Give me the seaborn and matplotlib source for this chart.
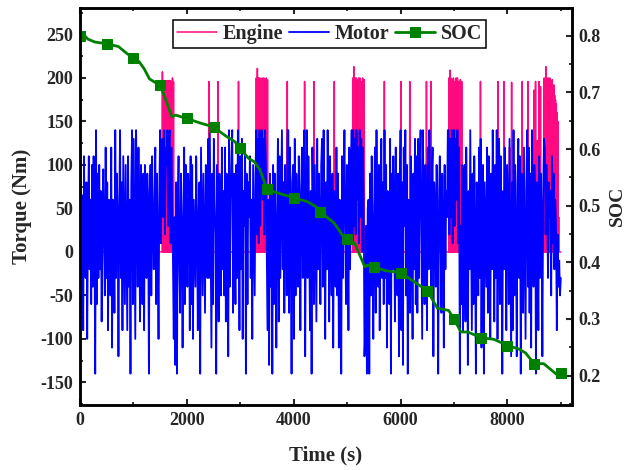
import numpy as np
import matplotlib
matplotlib.use("Agg")
import matplotlib.pyplot as plt
import seaborn as sns
from matplotlib.ticker import MultipleLocator

# ---------------- data ----------------
# Motor torque (Nm), sampled every 15 s from 0 to 9000 s (one row = 300 s)
motor_step = 15
motor_torque = [
    0, 90, -70, 65, -90, 110, 10, -30, 80, -100, 40, 110, -20, 60, -60, 100, -40, 110, 20, -140,
    140, -60, 90, -30, 100, -20, 70, -80, 30, 95, 10, -50, 120, -30, 80, -90, 60, 20, -50, 120,
    -110, 60, 20, -70, 140, -30, 90, 40, -120, 50, 140, -30, 80, -90, 110, 30, -60, 100, 10, -90,
    110, -40, 60, -140, 80, 140, -60, 130, 20, -100, 140, 60, -40, 120, 10, -80, 100, 40, -60, 90,
    -90, 100, 20, -30, 90, 50, -140, 70, 100, -50, 110, 30, -20, 60, 120, -60, 90, 10, -100, 70,
    140, 10, 120, 130, 40, 140, 20, 120, 100, 140, 30, 130, 140, 10, 120, 60, -10, -100, 40, -130,
    80, -140, 50, 110, -20, -70, 90, 30, -110, 30, 120, -60, 100, 20, -40, 90, 60, -90, 110, -60,
    100, -100, 60, 10, -40, 110, 40, -90, 40, 80, -140, 120, 30, -50, 90, 10, -70, 100, 60, -30,
    130, -30, 140, 20, -110, 90, -60, 130, 60, 20, -140, 100, 40, -80, 90, 10, -50, 120, -20, 70,
    -50, 120, -80, 90, 30, -120, 140, -40, 60, 110, 140, -70, 90, 20, -60, 100, -30, 140, 50, -90,
    110, -20, 130, -100, 70, 30, 120, -140, 90, -60, 80, 40, 110, -30, 60, -100, 100, 20, -50, 90,
    140, 20, 130, 10, 140, 30, 120, 140, 60, 130, 20, 140, 100, 10, -90, 60, -130, 90, -40, 70,
    -140, 100, -60, 90, 20, -110, 50, 130, -80, 110, -30, 60, 140, -20, 80, -70, 100, 30, -50, 140,
    140, -70, 120, 40, -140, 80, 100, -100, 130, -50, 90, 20, -40, 110, 50, -90, 70, 120, -30, 90,
    140, -120, 60, 140, -30, 110, 20, -90, 70, -140, 120, 40, -60, 100, 10, -80, 130, -20, 90, 30,
    -60, 100, 130, -40, 140, 30, -100, 80, -20, 140, 60, -80, 110, 20, -50, 90, -110, 70, 30, -40,
    120, -50, 90, -110, 60, 10, -140, 110, -30, 70, 140, 20, -60, 100, 40, -90, 120, -20, 80, 140,
    10, 140, 30, 130, 20, 140, 60, 120, 10, 140, 40, 130, 0, 120, 60, -120, -90, 30, -140, 50,
    60, -140, 90, -50, 110, 20, -100, 40, 120, -70, 140, 10, -40, 100, -90, 60, 130, -30, 80, -60,
    140, -30, 100, -110, 70, 20, -60, 130, -140, 90, -20, 110, 50, -80, 120, 10, -50, 90, -120, 70,
    140, -90, 80, -130, 120, 30, 140, -50, 100, -140, 60, 20, -70, 110, 40, -100, 90, -20, 130, -60,
    110, -70, 130, -30, 90, 140, 20, -100, 140, 20, -60, 100, 40, -90, 120, -20, 140, 60, -40, 80,
    120, -120, 80, 50, -40, 100, 20, -140, 60, 110, 10, -70, 90, 30, -110, 100, -20, 70, 40, 140,
    140, 20, 130, 40, 140, 10, 120, 140, 30, 130, 60, 140, 10, 120, -140, 30, -60, 100, -90, 80,
    100, -80, 120, 20, -130, 70, -20, 140, 30, -90, 90, -60, 110, 10, -140, 80, 40, -50, 120, -30,
    130, -110, 60, 100, -140, 80, 20, -40, 120, -70, 110, 30, -100, 90, -20, 140, 50, -80, 100, -30,
    140, -100, 90, 130, -60, 110, 20, -140, 70, -20, 120, 40, -90, 100, 60, -60, 130, 10, -120, 80,
    -90, 140, -50, 100, 20, -120, 80, 130, -30, 110, -140, 90, 40, -70, 120, 10, -100, 70, 140, -40,
    120, -70, 90, -110, 140, 30, -40, 100, 60, -140, 80, 20, -90, 110, -30, 90, 40, -120, 70, 130,
    120, 20, 100, 60, -30, 80, 40, 70, -50, 110, 10, 90, -20, 60, 30, -90, 20, -40, -10, -50,
    -30,
]

# Engine torque: zero except for these on-events (time s, torque Nm)
engine_on_time = [
    1543, 1560, 1580, 1600, 1624, 1640, 1656, 1672, 1687, 1705, 1731, 1750,
    2411, 2580, 2967,
    3300, 3320, 3340, 3365, 3390, 3410, 3440, 3460, 3485, 3510,
    3880, 4204, 4380, 4760,
    5105, 5125, 5145, 5170, 5195, 5215, 5240, 5265, 5290, 5320,
    5697, 6010, 6172, 6485, 6572, 6746,
    6905, 6925, 6945, 6970, 6990, 7015, 7040, 7065, 7090, 7120, 7145,
    7496, 7822, 7934, 8040, 8079, 8278, 8383,
    8495, 8527, 8560, 8590, 8620,
    8690, 8705, 8720, 8735, 8750, 8765, 8780, 8795, 8810, 8825, 8840,
    8855, 8870, 8885, 8900, 8915, 8930, 8945, 8960,
]
engine_on_torque = [
    207, 197, 195, 196, 197, 190, 197, 195, 197, 196, 200, 196,
    196, 196, 196,
    200, 211, 200, 200, 198, 200, 200, 196, 200, 198,
    196, 196, 196, 196,
    200, 213, 200, 200, 198, 200, 200, 196, 200, 198,
    196, 196, 196, 196, 196, 75,
    200, 209, 200, 198, 200, 196, 200, 200, 196, 198, 196,
    196, 196, 196, 120, 195, 196, 196,
    186, 196, 128, 196, 190,
    200, 196, 213, 200, 196, 200, 192, 200, 196, 190, 198,
    185, 192, 180, 175, 170, 160, 150, 40,
]
engine_end_time = 9000

# State of charge
soc_time = [0, 100, 150, 280, 500, 720, 875, 1000, 1100, 1200, 1300, 1400,
            1500, 1620, 1720, 1790, 2000, 2250, 2500, 2730, 2900, 3000,
            3150, 3270, 3370, 3500, 3680, 4000, 4260, 4420, 4500, 4760,
            4910, 5000, 5140, 5250, 5330, 5390, 5500, 5720, 6000, 6250,
            6500, 6690, 6900, 7000, 7130, 7260, 7500, 7750, 8000, 8215,
            8340, 8500, 8680, 8935, 9000]
soc_value = [0.800, 0.799, 0.794, 0.789, 0.786, 0.781, 0.769, 0.761, 0.755,
             0.742, 0.724, 0.718, 0.714, 0.683, 0.657, 0.660, 0.654, 0.646,
             0.639, 0.623, 0.613, 0.601, 0.584, 0.577, 0.563, 0.529, 0.523,
             0.514, 0.507, 0.498, 0.489, 0.469, 0.448, 0.441, 0.434, 0.410,
             0.392, 0.395, 0.392, 0.385, 0.382, 0.366, 0.350, 0.319, 0.315,
             0.300, 0.277, 0.277, 0.267, 0.264, 0.253, 0.247, 0.240, 0.221,
             0.221, 0.201, 0.204]
soc_marker_interval = 500

# ---------------- style ----------------
sns.set_style("ticks")
plt.rcParams.update({
    "font.family": ["Liberation Serif", "DejaVu Serif"],
    "font.weight": "bold",
    "axes.labelweight": "bold",
    "axes.unicode_minus": False,
    "axes.linewidth": 1.8,
})

motor_time = [i * motor_step for i in range(len(motor_torque))]

eng_t = [0.0]
eng_v = [0.0]
for t, v in zip(engine_on_time, engine_on_torque):
    eng_t += [t - 4, t, t + 4]
    eng_v += [0.0, v, 0.0]
eng_t.append(engine_end_time)
eng_v.append(0.0)

marker_idx = [i for i, t in enumerate(soc_time) if t % soc_marker_interval == 0]

fig = plt.figure(figsize=(6.27, 4.70), dpi=100)
L, R, T, B = 80, 571.5, 7.5, 405
ax = fig.add_axes([L / 627, 1 - B / 470, (R - L) / 627, (B - T) / 470])
ax2 = ax.twinx()

sns.lineplot(x=eng_t, y=eng_v, ax=ax, color="#FF0A80", linewidth=1.1,
             label="Engine", estimator=None, sort=False, zorder=2)
sns.lineplot(x=motor_time, y=motor_torque, ax=ax, color="#0000FF",
             linewidth=1.3, label="Motor", estimator=None, sort=False, zorder=3)
sns.lineplot(x=soc_time, y=soc_value, ax=ax2, color="#008000", linewidth=2.0,
             marker="s", markersize=6.5, markevery=marker_idx,
             markeredgecolor="#008000", markerfacecolor="#008000",
             label="SOC", estimator=None, sort=False)

ax.set_xlim(0, 9200)
ax.set_ylim(-176, 281)
ax2.set_ylim(0.148, 0.85)

ax.xaxis.set_major_locator(MultipleLocator(2000))
ax.xaxis.set_minor_locator(MultipleLocator(1000))
ax.yaxis.set_major_locator(MultipleLocator(50))
ax.yaxis.set_minor_locator(MultipleLocator(25))
ax2.yaxis.set_major_locator(MultipleLocator(0.1))
ax2.yaxis.set_minor_locator(MultipleLocator(0.05))

ax.tick_params(axis="both", which="major", direction="in", length=4.5,
               width=1.5, labelsize=13, pad=5)
ax.tick_params(axis="both", which="minor", direction="in", length=2.5, width=1.3)
ax.tick_params(axis="x", which="both", top=True, bottom=True)
ax.tick_params(axis="y", which="both", left=True, right=False)
ax2.tick_params(axis="y", which="major", direction="in", length=4.5, width=1.5,
                labelsize=13, pad=5)
ax2.tick_params(axis="y", which="minor", direction="in", length=2.5, width=1.3)
for lab in ax.get_xticklabels() + ax.get_yticklabels() + ax2.get_yticklabels():
    lab.set_fontweight("bold")

for a in (ax, ax2):
    for s in a.spines.values():
        s.set_linewidth(1.8)
        s.set_color("black")

ax.set_xlabel("Time (s)", fontsize=15, fontweight="bold", labelpad=12)
ax.set_ylabel("Torque (Nm)", fontsize=15, fontweight="bold", labelpad=6)
ax2.set_ylabel("SOC", fontsize=14, fontweight="bold", labelpad=6)

h1, l1 = ax.get_legend_handles_labels()
h2, l2 = ax2.get_legend_handles_labels()
if ax.get_legend() is not None:
    ax.get_legend().remove()
leg = ax2.legend(h1 + h2, l1 + l2, loc="upper center",
                 bbox_to_anchor=(0.5076, (B - 20) / (B - T)), ncol=3,
                 frameon=True, fancybox=False, edgecolor="black", framealpha=1,
                 borderpad=0.2, handlelength=2.0, handletextpad=0.3,
                 columnspacing=0.25, borderaxespad=0,
                 prop={"family": "Liberation Serif", "weight": "bold", "size": 14.5})
leg.get_frame().set_linewidth(1.1)

fig.savefig("out.png", dpi=100)
